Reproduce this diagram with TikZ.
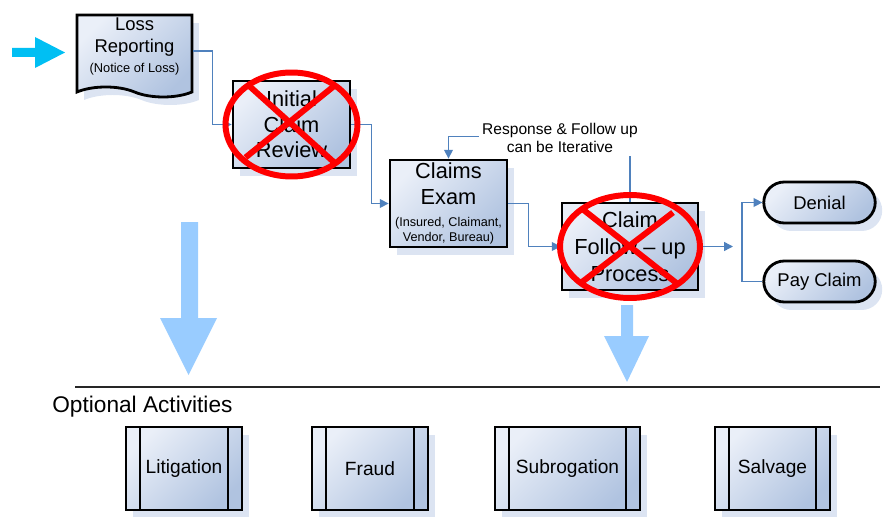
\documentclass[tikz,border=0pt]{standalone}
\usepackage{fontspec}
\setmainfont{Liberation Sans}
\usetikzlibrary{arrows.meta,shapes.symbols,shapes.misc,shadows}
\definecolor{flowblue}{HTML}{4F81BD}
\definecolor{boxlight}{HTML}{EAEFF8}
\definecolor{boxdark}{HTML}{B0C3E0}
\definecolor{shadowblue}{HTML}{DCE4F2}
\definecolor{bigarrow}{HTML}{99CCFF}
\definecolor{inarrow}{HTML}{00BFF3}

\begin{document}
\begin{tikzpicture}[x=0.02cm, y=-0.02cm, >={Triangle[length=5pt,width=5pt]}]
  % Define styles
  \tikzstyle{box}=[draw=black, line width=1.6pt, top color=boxlight, bottom color=boxdark, shading angle=45, drop shadow={shadow xshift=0.14cm, shadow yshift=-0.16cm, fill=shadowblue, opacity=1}, align=center, inner sep=1pt]
  \tikzstyle{bigfont}=[font=\fontsize{12.4}{14.5}\selectfont]
  \tikzstyle{endbox}=[box, rounded rectangle, minimum width=2.3cm, minimum height=0.82cm, font=\fontsize{10.5}{12}\selectfont]
  \tikzstyle{subproc}=[box, minimum height=1.66cm, font=\fontsize{10.9}{12}\selectfont, path picture={\draw[line width=1.6pt] ([xshift=0.28cm]path picture bounding box.north west) -- ([xshift=0.28cm]path picture bounding box.south west) ([xshift=-0.28cm]path picture bounding box.north east) -- ([xshift=-0.28cm]path picture bounding box.south east);}]
  \tikzstyle{flow}=[->, draw=flowblue, line width=0.8pt]
  \tikzstyle{nocross}=[draw=red, line width=3.4pt]

  \useasboundingbox (0,0) rectangle (886,517);

  % Main flow
  \node[box, tape, tape bend top=none, tape bend bottom=out and in, tape bend height=0.2cm, minimum width=2.3cm, minimum height=1.64cm, font=\fontsize{10.5}{13}\selectfont] (loss) at (134.5,51) {Loss\\Reporting\\[-2pt]{\fontsize{7.3}{9}\selectfont (Notice of Loss)}\\[-6pt]\mbox{}};
  \node[box, bigfont, minimum width=2.34cm, minimum height=1.74cm] (review) at (291.5,124.5) {Initial\\Claim\\Review};
  \node[box, bigfont, minimum width=2.34cm, minimum height=1.74cm] (exam) at (448.5,203.5) {Claims\\Exam\\[-2pt]{\fontsize{7.2}{8.5}\selectfont (Insured, Claimant,}\\[-6pt]{\fontsize{7.2}{8.5}\selectfont Vendor, Bureau)}};
  \node[box, font=\fontsize{12.4}{15.4}\selectfont, minimum width=2.72cm, minimum height=1.74cm] (followup) at (630,246.5) {Claim\\Follow -- up\\Process};
  \node[endbox] (denial) at (819.5,202.5) {Denial};
  \node[endbox] (pay) at (819.5,281.5) {Pay Claim};
  \coordinate (split) at (733,246.5);
  \coordinate (fork) at (742,246.5);

  % Transitions
  \draw[flow] (loss.east) -- ++(19,0) |- (review.west);
  \draw[flow] (review.east) -- ++(20,0) |- (exam.west);
  \draw[flow] (exam.east) -- ++(20,0) |- (followup.west);
  \draw[flow] (followup.east) -- (split);
  \draw[flow] (fork) |- (denial.west);
  \draw[draw=flowblue, line width=0.8pt] (fork) |- (pay.west);
  \draw[flow] (followup.north) -- ++(0,-65) -| (exam.north);
  \node[fill=white, align=center, inner sep=2pt, font=\fontsize{8.85}{10.2}\selectfont] (note) at (560,138) {Response \& Follow up\\can be Iterative};

  % Struck out steps
  \draw[nocross] (review.center) ellipse [x radius=1.32cm, y radius=1.04cm];
  \draw[nocross] ([shift={(-45,-41)}]review.center) -- ([shift={(45,40)}]review.center);
  \draw[nocross] ([shift={(42,-38)}]review.center) -- ([shift={(-46,33)}]review.center);
  \draw[nocross] (followup.center) ellipse [x radius=1.4cm, y radius=1.03cm];
  \draw[nocross] ([shift={(-47,-37)}]followup.center) -- ([shift={(47,37)}]followup.center);
  \draw[nocross] ([shift={(43,-34)}]followup.center) -- ([shift={(-50,37)}]followup.center);

  % Arrows
  \fill[inarrow] (12,48) -- (35,48) -- (35,37) -- (65,52.5) -- (35,68) -- (35,57) -- (12,57) -- cycle;
  \fill[bigarrow] (181,222) -- (198,222) -- (198,318) -- (217,318) -- (188.5,375) -- (160,318) -- (181,318) -- cycle;
  \fill[bigarrow] (621,305) -- (633,305) -- (633,336) -- (649,336) -- (627,382) -- (604,336) -- (621,336) -- cycle;

  % Optional activities
  \draw[line width=1.2pt, black!85] (75,387) -- (880,387);
  \node[anchor=west, inner sep=0pt, font=\fontsize{12.9}{14}\selectfont] (optional) at (52,407) {Optional Activities};
  \node[subproc, minimum width=2.32cm] (litigation) at (184,468.5) {Litigation};
  \node[subproc, minimum width=2.32cm] (fraud) at (370,468.5) {Fraud};
  \node[subproc, minimum width=2.9cm] (subrogation) at (567.5,468.5) {Subrogation};
  \node[subproc, minimum width=2.3cm] (salvage) at (772.5,468.5) {Salvage};
\end{tikzpicture}
\end{document}
